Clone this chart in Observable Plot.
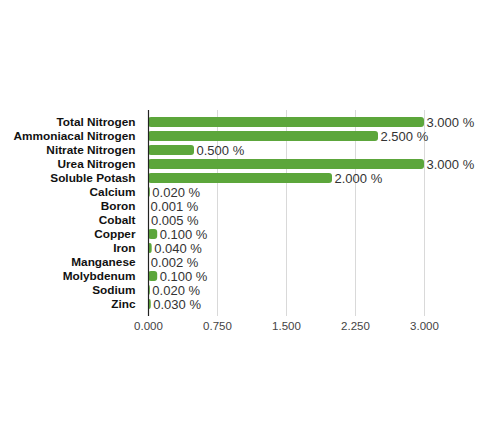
<!DOCTYPE html>
<html>
<head>
<meta charset="utf-8">
<script src="https://cdn.jsdelivr.net/npm/d3@7"></script>
<script src="https://cdn.jsdelivr.net/npm/@observablehq/plot@0.6"></script>
<style>
  html, body { margin: 0; padding: 0; background: #fff; }
  #chart svg { display: block; }
</style>
</head>
<body>
<div id="chart"></div>
<script>
const categories = ["Total Nitrogen", "Ammoniacal Nitrogen", "Nitrate Nitrogen", "Urea Nitrogen", "Soluble Potash", "Calcium", "Boron", "Cobalt", "Copper", "Iron", "Manganese", "Molybdenum", "Sodium", "Zinc"];
const values = [3.000, 2.500, 0.500, 3.000, 2.000, 0.020, 0.001, 0.005, 0.100, 0.040, 0.002, 0.100, 0.020, 0.030];
const xTicks = [0, 0.75, 1.5, 2.25, 3];

const data = categories.map((c, i) => ({name: c, value: values[i]}));
const fmt = d3.format(".3f");

const chart = Plot.plot({
  width: 500,
  height: 434,
  marginLeft: 148,
  marginRight: 76,
  marginTop: 110,
  marginBottom: 118,
  style: {fontFamily: "'Liberation Sans', Arial, sans-serif", background: "#fff"},
  x: {domain: [0, 3], ticks: xTicks, tickFormat: fmt, label: null},
  y: {domain: categories, padding: 0.3, label: null},
  marks: [
    Plot.ruleX(xTicks.slice(1), {stroke: "#d9d9d9", strokeWidth: 1}),
    Plot.barX(data, {x: "value", y: "name", fill: "#5ca63b", rx: 3}),
    Plot.ruleX([0], {stroke: "#222", strokeWidth: 1.2}),
    Plot.text(data, {x: "value", y: "name", text: d => fmt(d.value) + " %", textAnchor: "start", dx: 2, fontSize: 13, fill: "#333"}),
    Plot.axisX({ticks: xTicks, tickFormat: fmt, tickSize: 0, tickPadding: 5, fontSize: 11.5, fill: "#444", label: null}),
    Plot.axisY({tickSize: 0, tickPadding: 13, fontSize: 11.8, fontWeight: "bold", fill: "#111", label: null})
  ]
});
document.getElementById("chart").appendChild(chart);
</script>
</body>
</html>
